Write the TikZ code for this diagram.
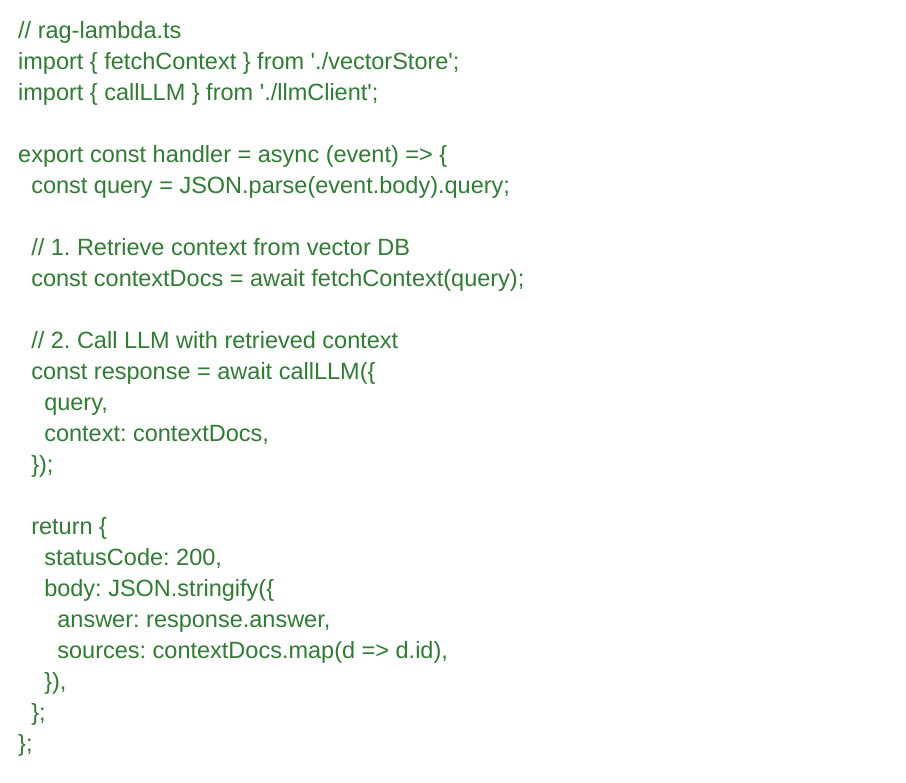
\documentclass[tikz,border=0pt]{standalone}
\usepackage{fontspec}
\usepackage{xcolor}
\usepackage{tikz}
\newfontfamily\codefont{Liberation Sans}[Ligatures=TeXOff]
\definecolor{codegreen}{HTML}{2E7D32}
\frenchspacing
\tikzset{
    codeline/.style={anchor=base west, inner sep=0pt, text=codegreen, font=\codefont\fontsize{23.5pt}{31pt}\selectfont}
}
\begin{document}
\begin{tikzpicture}[x=1pt, y=-1pt]
    \useasboundingbox[fill=white] (0,0) rectangle (906,783);

    \node[codeline] (l01) at (18, 38.5) {// rag-lambda.ts};
    \node[codeline] (l02) at (18, 69.5) {import \{ fetchContext \} from './vectorStore';};
    \node[codeline] (l03) at (18, 100.5) {import \{ callLLM \} from './llmClient';};

    \node[codeline] (l05) at (18, 162.5) {export const handler = async (event) => \{};
    \node[codeline] (l06) at (31.1, 193.5) {const query = JSON.parse(event.body).query;};

    \node[codeline] (l08) at (31.1, 255.5) {// 1. Retrieve context from vector DB};
    \node[codeline] (l09) at (31.1, 286.5) {const contextDocs = await fetchContext(query);};

    \node[codeline] (l11) at (31.1, 348.5) {// 2. Call LLM with retrieved context};
    \node[codeline] (l12) at (31.1, 379.5) {const response = await callLLM(\{};
    \node[codeline] (l13) at (44.1, 410.5) {query,};
    \node[codeline] (l14) at (44.1, 441.5) {context: contextDocs,};
    \node[codeline] (l15) at (31.1, 472.5) {\});};

    \node[codeline] (l17) at (31.1, 534.5) {return \{};
    \node[codeline] (l18) at (44.1, 565.5) {statusCode: 200,};
    \node[codeline] (l19) at (44.1, 596.5) {body: JSON.stringify(\{};
    \node[codeline] (l20) at (57.2, 627.5) {answer: response.answer,};
    \node[codeline] (l21) at (57.2, 658.5) {sources: contextDocs.map(d => d.id),};
    \node[codeline] (l22) at (44.1, 689.5) {\}),};
    \node[codeline] (l23) at (31.1, 720.5) {\};};
    \node[codeline] (l24) at (18, 751.5) {\};};
\end{tikzpicture}
\end{document}
